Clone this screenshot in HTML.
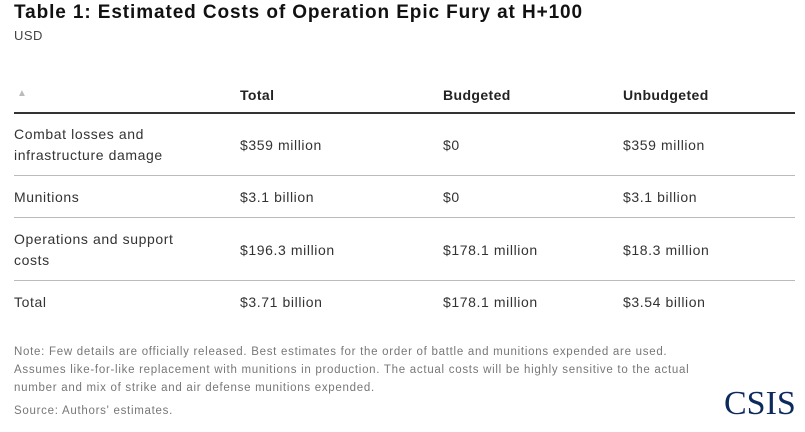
<!DOCTYPE html>
<html><head><style>
body{margin:0;width:805px;height:432px;background:#fff;font-family:"Liberation Sans",sans-serif;position:relative;overflow:hidden;color:#333}
div{position:absolute;white-space:nowrap}
.t{font-size:14px;line-height:21px;color:#333;letter-spacing:0.6px}
.h{font-size:14px;font-weight:bold;color:#222;letter-spacing:0.4px}
.ln{left:14px;width:781px;height:1px;background:#bbb}
.n{font-size:11.5px;color:#777;line-height:18px;left:14px;letter-spacing:0.72px}
</style></head><body>
<div style="left:14px;top:2px;font-size:19px;font-weight:bold;color:#111;letter-spacing:0.9px">Table 1: Estimated Costs of Operation Epic Fury at H+100</div>
<div style="left:14px;top:28px;font-size:13px;color:#444;letter-spacing:0.5px">USD</div>
<div style="left:17px;top:88px;font-size:10px;color:#bbb">▲</div>
<div class="h" style="left:240px;top:87px">Total</div>
<div class="h" style="left:443px;top:87px">Budgeted</div>
<div class="h" style="left:623px;top:87px">Unbudgeted</div>
<div class="ln" style="top:112px;height:1.5px;background:#333"></div>
<div class="t" style="left:14px;top:124px">Combat losses and<br>infrastructure damage</div>
<div class="t" style="left:240px;top:135px">$359 million</div>
<div class="t" style="left:443px;top:135px">$0</div>
<div class="t" style="left:623px;top:135px">$359 million</div>
<div class="ln" style="top:175px"></div>
<div class="t" style="left:14px;top:187px">Munitions</div>
<div class="t" style="left:240px;top:187px">$3.1 billion</div>
<div class="t" style="left:443px;top:187px">$0</div>
<div class="t" style="left:623px;top:187px">$3.1 billion</div>
<div class="ln" style="top:217px"></div>
<div class="t" style="left:14px;top:229px">Operations and support<br>costs</div>
<div class="t" style="left:240px;top:240px">$196.3 million</div>
<div class="t" style="left:443px;top:240px">$178.1 million</div>
<div class="t" style="left:623px;top:240px">$18.3 million</div>
<div class="ln" style="top:280px"></div>
<div class="t" style="left:14px;top:292px">Total</div>
<div class="t" style="left:240px;top:292px">$3.71 billion</div>
<div class="t" style="left:443px;top:292px">$178.1 million</div>
<div class="t" style="left:623px;top:292px">$3.54 billion</div>
<div class="n" style="top:343px">Note: Few details are officially released. Best estimates for the order of battle and munitions expended are used.<br>Assumes like-for-like replacement with munitions in production. The actual costs will be highly sensitive to the actual<br>number and mix of strike and air defense munitions expended.</div>
<div class="n" style="top:402px">Source: Authors' estimates.</div>
<div style="left:724px;top:386px;font-family:'Liberation Serif',serif;font-size:34px;color:#0d2a5c;line-height:36px">CSIS</div>
</body></html>
